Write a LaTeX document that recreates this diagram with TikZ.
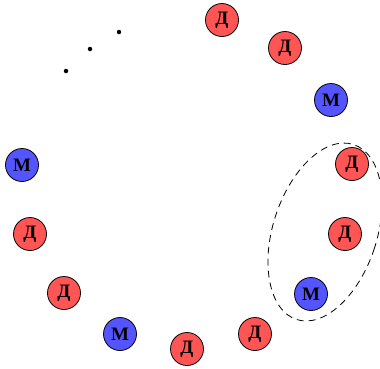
\documentclass[tikz,border=0pt]{standalone}
\usepackage{fontspec}
\setmainfont{Liberation Serif}
\begin{document}
\begin{tikzpicture}[x=1pt,y=-1pt,
  agent/.style={circle,draw=black,line width=0.8pt,minimum size=33pt,inner sep=0pt,font=\fontsize{19}{19}\selectfont\bfseries},
  dd/.style={agent,fill=dred},
  mm/.style={agent,fill=mblue},
  dotmark/.style={circle,fill=black,inner sep=0pt,minimum size=4.5pt}]
\definecolor{dred}{RGB}{255,85,85}
\definecolor{mblue}{RGB}{85,85,255}
\useasboundingbox (0,0) rectangle (380,368);
\node[dd] (n1) at (222,20) {Д};
\node[dd] (n2) at (285,48) {Д};
\node[mm] (n3) at (331,100) {М};
\node[dd] (n4) at (352,164) {Д};
\node[dd] (n5) at (345,234) {Д};
\node[mm] (n6) at (311,294) {М};
\node[dd] (n7) at (255,334) {Д};
\node[dd] (n8) at (187,349) {Д};
\node[mm] (n9) at (120,334) {М};
\node[dd] (n10) at (64,293) {Д};
\node[dd] (n11) at (30,234) {Д};
\node[mm] (n12) at (22,165) {М};
\node[dotmark] (d1) at (119,32) {};
\node[dotmark] (d2) at (90,49) {};
\node[dotmark] (d3) at (66,71) {};
\coordinate (ec) at (325,232);
\draw[line width=0.8pt,dash pattern=on 7pt off 5pt,rotate around={-18:(ec)}] (ec) ellipse [x radius=52,y radius=92];
\end{tikzpicture}
\end{document}
